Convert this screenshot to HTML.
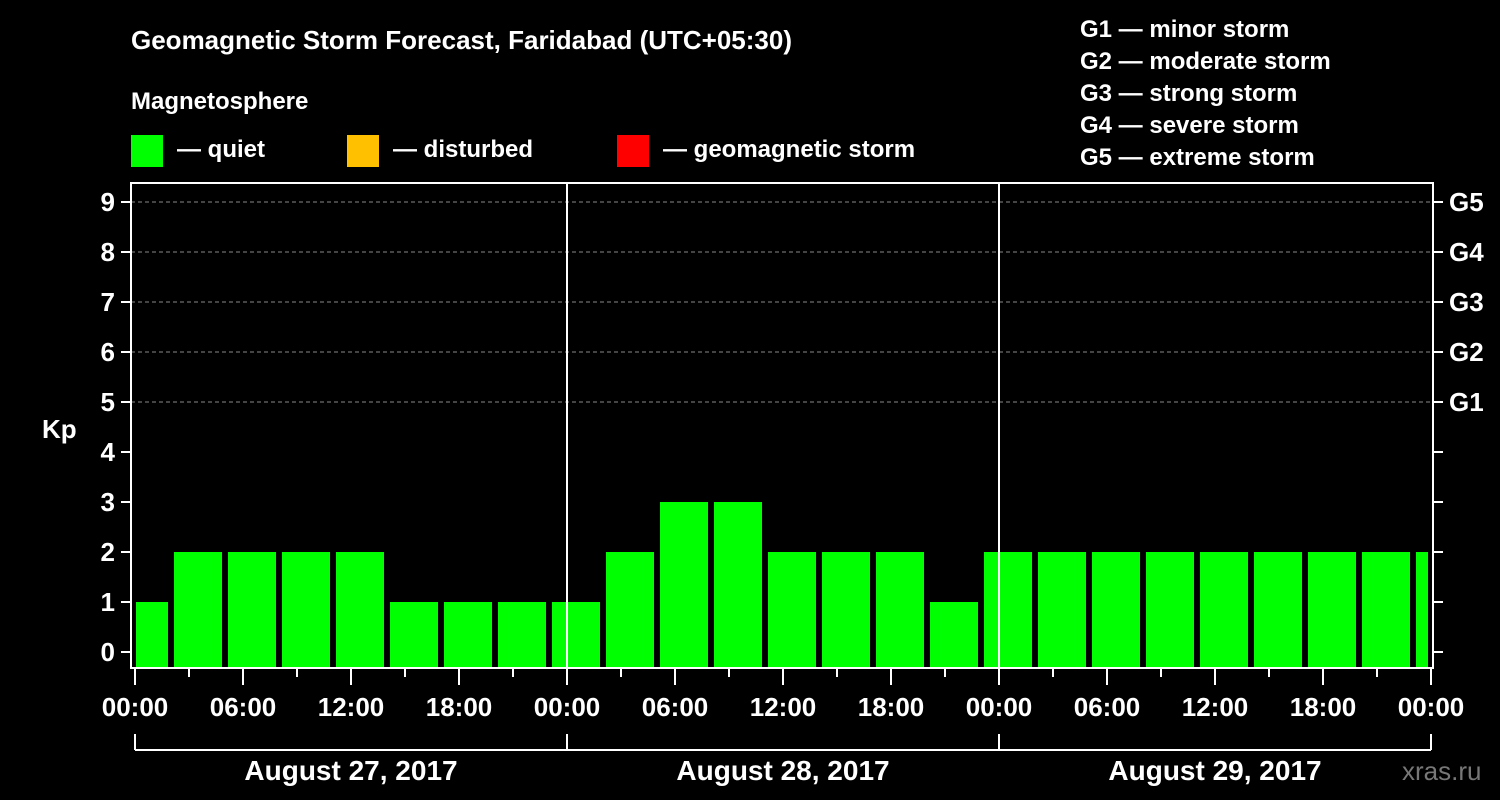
<!DOCTYPE html>
<html><head><meta charset="utf-8"><style>
html,body{margin:0;padding:0;background:#000;}
svg{display:block;font-family:"Liberation Sans",Arial,sans-serif;font-weight:bold;}
</style></head><body>
<svg id="chart" width="1500" height="800" xmlns="http://www.w3.org/2000/svg">
<rect x="0" y="0" width="1500" height="800" fill="#000"/>
<text x="131" y="49" fill="#fff" font-size="26">Geomagnetic Storm Forecast, Faridabad (UTC+05:30)</text>
<text x="131" y="109" fill="#fff" font-size="24">Magnetosphere</text>
<g><rect x="131" y="135" width="32" height="32" fill="#00ff00"/><text x="177" y="157" fill="#fff" font-size="24">— quiet</text></g>
<g><rect x="347" y="135" width="32" height="32" fill="#ffc000"/><text x="393" y="157" fill="#fff" font-size="24">— disturbed</text></g>
<g><rect x="617" y="135" width="32" height="32" fill="#ff0000"/><text x="663" y="157" fill="#fff" font-size="24">— geomagnetic storm</text></g>
<g fill="#fff" font-size="24">
<text x="1080" y="37">G1 — minor storm</text>
<text x="1080" y="69">G2 — moderate storm</text>
<text x="1080" y="101">G3 — strong storm</text>
<text x="1080" y="133">G4 — severe storm</text>
<text x="1080" y="165">G5 — extreme storm</text>
</g>
<text x="42" y="438" fill="#fff" font-size="26">Kp</text>
<text x="1402" y="780" fill="#777" font-size="26" font-weight="normal">xras.ru</text>
<g id="grid"></g><g id="bars"></g><g id="axes"></g>
</svg>
<script>
const kpValues=[1,2,2,2,2,1,1,1,1,2,3,3,2,2,2,1,2,2,2,2,2,2,2,2,2];
const dayLabels=["August 27, 2017","August 28, 2017","August 29, 2017"];
const hourLabels=["00:00","06:00","12:00","18:00"];
const gLabels=["G1","G2","G3","G4","G5"];
const NS="http://www.w3.org/2000/svg";
const X0=135,PXH=18,Y0=652,PXK=50,L=131,R=1433,T=183,B=668;
const xs=h=>X0+h*PXH, ys=k=>Y0-k*PXK;
function mk(tag,attrs,parent,txt){const e=document.createElementNS(NS,tag);for(const k in attrs)e.setAttribute(k,attrs[k]);if(txt!==undefined)e.textContent=txt;parent.appendChild(e);return e;}
const grid=document.getElementById('grid'),bars=document.getElementById('bars'),axes=document.getElementById('axes');
for(let k=5;k<=9;k++){const g=mk('line',{x1:L,x2:R,y1:ys(k),y2:ys(k),stroke:'#888','stroke-dasharray':'4,3','stroke-width':1},grid);

}
kpValues.forEach((v,i)=>{
  const start=-1+3*i;
  let x1=xs(start)+3,x2=xs(start+3)-3;
  x1=Math.max(x1,L+5);x2=Math.min(x2,R-5);
  const c=v>=5?'#ff0000':(v>=4?'#ffc000':'#00ff00');
  const r=mk('rect',{x:x1,y:ys(v),width:x2-x1,height:B-1-ys(v),fill:c},bars);
  
  
});
for(let d=1;d<3;d++){const l=mk('line',{x1:xs(24*d),x2:xs(24*d),y1:T,y2:B,stroke:'#fff','stroke-width':2},axes);

}
const fr=mk('rect',{x:L,y:T,width:R-L,height:B-T,fill:'none',stroke:'#fff','stroke-width':2},axes);


for(let k=0;k<=9;k++){
  mk('line',{x1:L-10,x2:L,y1:ys(k),y2:ys(k),stroke:'#fff','stroke-width':2},axes);
  mk('line',{x1:R,x2:R+10,y1:ys(k),y2:ys(k),stroke:'#fff','stroke-width':2},axes);
  const t=mk('text',{x:L-16,y:ys(k)+9,fill:'#fff','font-size':26,'text-anchor':'end'},axes,String(k));
  
  
}
gLabels.forEach((g,i)=>{const t=mk('text',{x:1449,y:ys(5+i)+9,fill:'#fff','font-size':26},axes,g);

});
for(let h=0;h<=72;h+=3){
  const major=h%6===0;
  mk('line',{x1:xs(h),x2:xs(h),y1:B,y2:major?685:677,stroke:'#fff','stroke-width':2},axes);
  if(major){const t=mk('text',{x:xs(h),y:716,fill:'#fff','font-size':26,'text-anchor':'middle'},axes,hourLabels[(h/6)%4]);
  
  }
}
mk('line',{x1:xs(0),x2:xs(72),y1:750,y2:750,stroke:'#fff','stroke-width':2},axes);
for(let d=0;d<=3;d++)mk('line',{x1:xs(24*d),x2:xs(24*d),y1:734,y2:750,stroke:'#fff','stroke-width':2},axes);
dayLabels.forEach((s,d)=>{const t=mk('text',{x:xs(24*d+12),y:780,fill:'#fff','font-size':28,'text-anchor':'middle'},axes,s);

});
</script>
</body></html>
